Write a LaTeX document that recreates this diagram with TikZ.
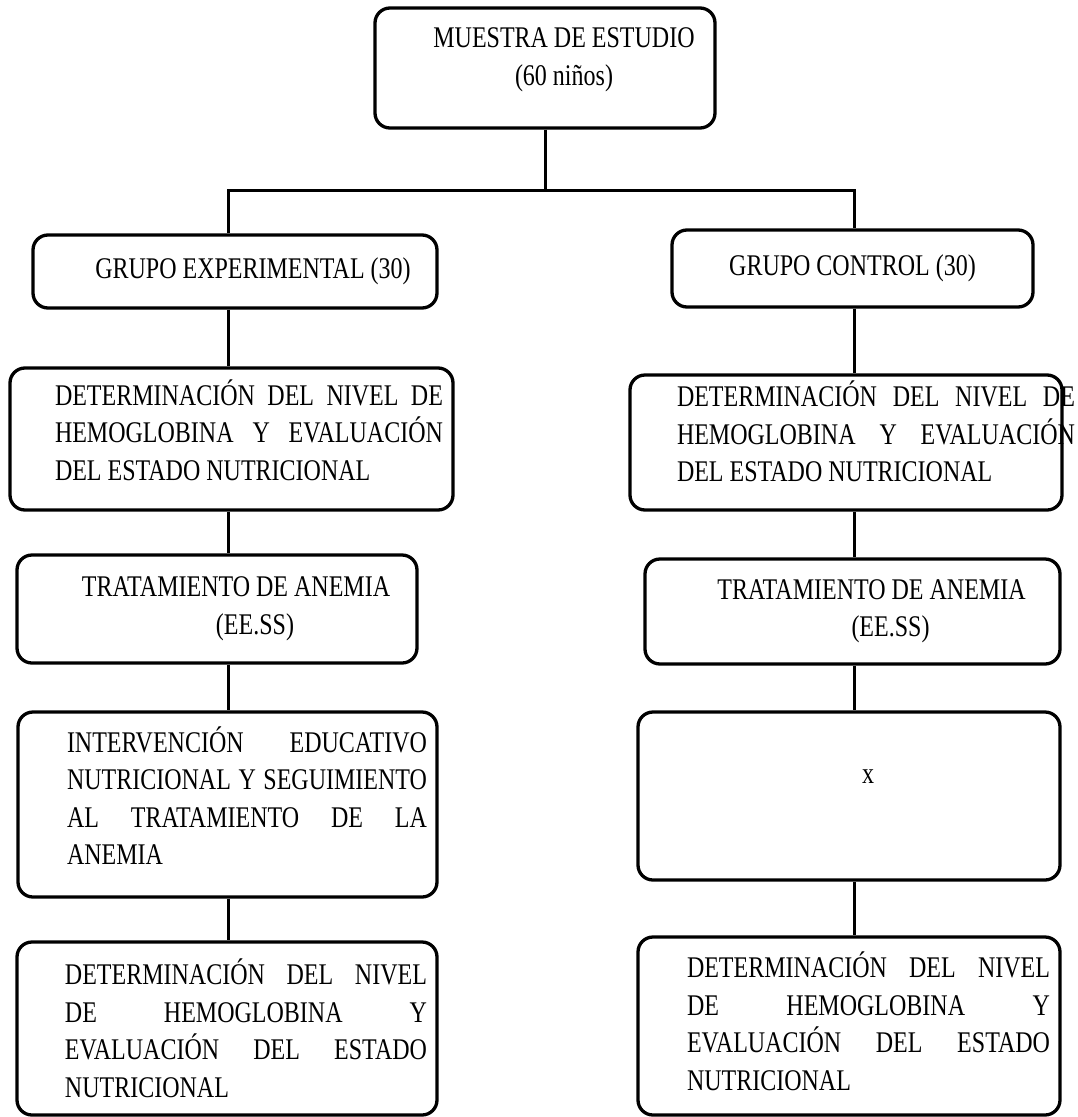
\documentclass[tikz,border=0pt]{standalone}
\usepackage{fontspec}
\usetikzlibrary{positioning}
\newfontfamily\tnr{Liberation Serif}[FakeStretch=0.8]
\setlength{\parindent}{0pt}
\hyphenpenalty=10000
% sangria izquierda + bloque de texto
\newcommand{\bloque}[3]{\hspace*{#1}\parbox{#2}{#3}}
\newcommand{\bajar}[1]{\rule[-#1]{0pt}{0pt}}

\begin{document}
\begin{tikzpicture}[
  x=1pt, y=-1pt,
  font=\tnr\fontsize{30}{37.5}\selectfont,
  caja/.style={draw, line width=3.3pt, rounded corners=15pt,
               inner xsep=10pt, inner ysep=0pt},
  linea/.style={line width=3pt}
]
\useasboundingbox (0,0) rectangle (1078,1117);
% muestra y los dos grupos
\node[caja, minimum height=120pt] (muestra) at (545,68)
  {\bloque{38pt}{282pt}{\centering MUESTRA DE ESTUDIO\\ (60 niños)\bajar{23pt}}};
\node[caja, minimum height=73pt] (gexp) at (235,271.5)
  {\bloque{36pt}{348pt}{\centering GRUPO EXPERIMENTAL (30)}};
\node[caja, minimum height=77pt] (gctl) at (852.5,268.5)
  {\bloque{0pt}{341pt}{\centering GRUPO CONTROL (30)}};
\coordinate (ramaexp) at (228,190);
\coordinate (ramactl) at (854,190);
% columna experimental
\node[caja, minimum height=142pt] (detexp) at (231.5,439)
  {\bloque{35pt}{388pt}{DETERMINACIÓN DEL NIVEL DE\linebreak
   HEMOGLOBINA Y EVALUACIÓN\linebreak DEL ESTADO NUTRICIONAL\bajar{18pt}}};
\node[caja, minimum height=108pt] (tratexp) at (217,609)
  {\bloque{38pt}{342pt}{\centering TRATAMIENTO DE ANEMIA\\ \hspace*{38pt}(EE.SS)}};
\node[caja, minimum height=185pt] (intexp) at (227.5,804.5)
  {\bloque{39pt}{360pt}{INTERVENCIÓN EDUCATIVO\linebreak
   NUTRICIONAL Y SEGUIMIENTO\linebreak AL TRATAMIENTO DE LA\linebreak
   ANEMIA\bajar{18pt}}};
\node[caja, minimum height=173pt] (finexp) at (227,1028.5)
  {\bloque{38pt}{362pt}{DETERMINACIÓN DEL NIVEL\linebreak DE HEMOGLOBINA Y\linebreak
   EVALUACIÓN DEL ESTADO\linebreak NUTRICIONAL}};
% columna control
\node[caja, minimum height=135pt] (detctl) at (846,442.5)
  {\bloque{37pt}{375pt}{\rightskip=-23pt DETERMINACIÓN DEL NIVEL DE\linebreak
   HEMOGLOBINA Y EVALUACIÓN\linebreak DEL ESTADO NUTRICIONAL\bajar{22pt}}};
\node[caja, minimum height=105pt] (tratctl) at (852.5,611.5)
  {\bloque{38pt}{357pt}{\centering TRATAMIENTO DE ANEMIA\\ \hspace*{38pt}(EE.SS)}};
\node[caja, minimum height=168pt] (sinint) at (849,796)
  {\bloque{38pt}{364pt}{\centering x\bajar{38pt}}};
\node[caja, minimum height=178pt] (finctl) at (849,1026)
  {\bloque{39pt}{363pt}{DETERMINACIÓN DEL NIVEL\linebreak DE HEMOGLOBINA Y\linebreak
   EVALUACIÓN DEL ESTADO\linebreak NUTRICIONAL\bajar{10pt}}};
% conectores
\draw[linea] (muestra.south) -- (muestra.south |- ramaexp);
\draw[linea] (gexp.north -| ramaexp) -- (ramaexp) -- (ramactl) -- (gctl.north -| ramactl);
\draw[linea] (gexp.south -| ramaexp) -- (detexp.north -| ramaexp);
\draw[linea] (detexp.south -| ramaexp) -- (tratexp.north -| ramaexp);
\draw[linea] (tratexp.south -| ramaexp) -- (intexp.north -| ramaexp);
\draw[linea] (intexp.south -| ramaexp) -- (finexp.north -| ramaexp);
\draw[linea] (gctl.south -| ramactl) -- (detctl.north -| ramactl);
\draw[linea] (detctl.south -| ramactl) -- (tratctl.north -| ramactl);
\draw[linea] (tratctl.south -| ramactl) -- (sinint.north -| ramactl);
\draw[linea] (sinint.south -| ramactl) -- (finctl.north -| ramactl);
\end{tikzpicture}
\end{document}
